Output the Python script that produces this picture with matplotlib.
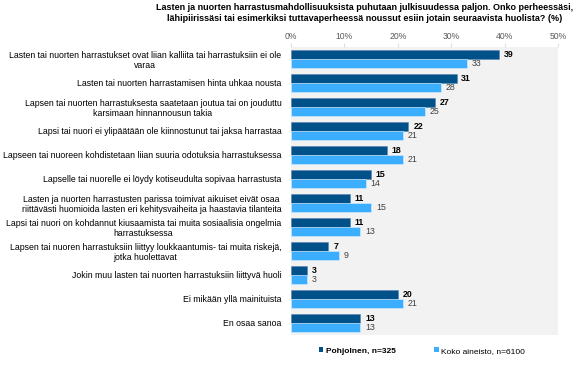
import matplotlib
matplotlib.use("Agg")
import matplotlib.pyplot as plt
from matplotlib.patches import Patch
import numpy as np

plt.rcParams['font.family'] = ['Liberation Sans', 'DejaVu Sans']

categories = [
    "Lasten tai nuorten harrastukset ovat liian kalliita tai harrastuksiin ei ole\nvaraa",
    "Lasten tai nuorten harrastamisen hinta uhkaa nousta",
    "Lapsen tai nuorten harrastuksesta saatetaan joutua tai on jouduttu\nkarsimaan hinnannousun takia",
    "Lapsi tai nuori ei ylipäätään ole kiinnostunut tai jaksa harrastaa",
    "Lapseen tai nuoreen kohdistetaan liian suuria odotuksia harrastuksessa",
    "Lapselle tai nuorelle ei löydy kotiseudulta sopivaa harrastusta",
    "Lasten ja nuorten harrastusten parissa toimivat aikuiset eivät osaa\nriittävästi huomioida lasten eri kehitysvaiheita ja haastavia tilanteita",
    "Lapsi tai nuori on kohdannut kiusaamista tai muita sosiaalisia ongelmia\nharrastuksessa",
    "Lapsen tai nuoren harrastuksiin liittyy loukkaantumis- tai muita riskejä,\njotka huolettavat",
    "Jokin muu lasten tai nuorten harrastuksiin liittyvä huoli",
    "Ei mikään yllä mainituista",
    "En osaa sanoa",
]
pohjoinen = [39, 31, 27, 22, 18, 15, 11, 11, 7, 3, 20, 13]
koko = [33, 28, 25, 21, 21, 14, 15, 13, 9, 3, 21, 13]
series_names = ["Pohjolnen, n=325", "Koko aineisto, n=6100"]
xticks = [0, 10, 20, 30, 40, 50]
xticklabels = ["0%", "10%", "20%", "30%", "40%", "50%"]
title = ("Lasten ja nuorten harrastusmahdollisuuksista puhutaan julkisuudessa paljon. Onko perheessäsi,\n"
         "lähipiirissäsi tai esimerkiksi tuttavaperheessä noussut esiin jotain seuraavista huolista? (%)")

dark = "#00508A"
light = "#3BAEFF"

W, H = 581, 368
fig = plt.figure(figsize=(W / 100, H / 100), dpi=100)
ax = fig.add_axes([291 / W, 1 - 335 / H, (558 - 291) / W, (335 - 47) / H])
ax.set_facecolor("#F2F2F2")

y = np.arange(len(categories))
h = 0.36
ax.barh(y - h / 2, pohjoinen, height=h, color=dark, edgecolor="#5B86AD", linewidth=0.4)
ax.barh(y + h / 2, koko, height=h, color=light, edgecolor="#D8EEFF", linewidth=0.4)

for i, (a, b) in enumerate(zip(pohjoinen, koko)):
    ax.text(a + 0.9, i - h / 2, str(a), va="center", ha="left", fontsize=6.3,
            fontweight="bold", color="black")
    ax.text(b + 0.9, i + h / 2, str(b), va="center", ha="left", fontsize=6.3,
            color="#404040")

ax.set_xlim(0, 50)
ax.set_ylim(len(categories) - 0.5, -0.5)
ax.xaxis.tick_top()
ax.set_xticks(xticks)
ax.set_xticklabels(xticklabels, fontsize=6.2, color="#595959")
ax.tick_params(axis="x", length=3, color="#DCDCF2", pad=1)
ax.set_yticks(y)
ax.set_yticklabels(categories, fontsize=6.3, color="black")
for lbl in ax.get_yticklabels():
    lbl.set_multialignment("center")
ax.tick_params(axis="y", length=0, pad=7)
for s in ax.spines.values():
    s.set_visible(False)

fig.text(365 / W, 1 - 13 / H, title, ha="center", va="center", fontsize=6.45,
         fontweight="bold", linespacing=1.3)

handles = [Patch(facecolor=dark), Patch(facecolor=light)]
leg = fig.legend(handles, series_names, loc="center", bbox_to_anchor=(422 / W, 1 - 351 / H),
                 ncol=2, frameon=False, fontsize=6, handlelength=0.55, handleheight=0.55,
                 handletextpad=0.3, columnspacing=4.6, borderaxespad=0)
leg.get_texts()[0].set_fontweight("bold")

fig.savefig("out.png", dpi=100)
